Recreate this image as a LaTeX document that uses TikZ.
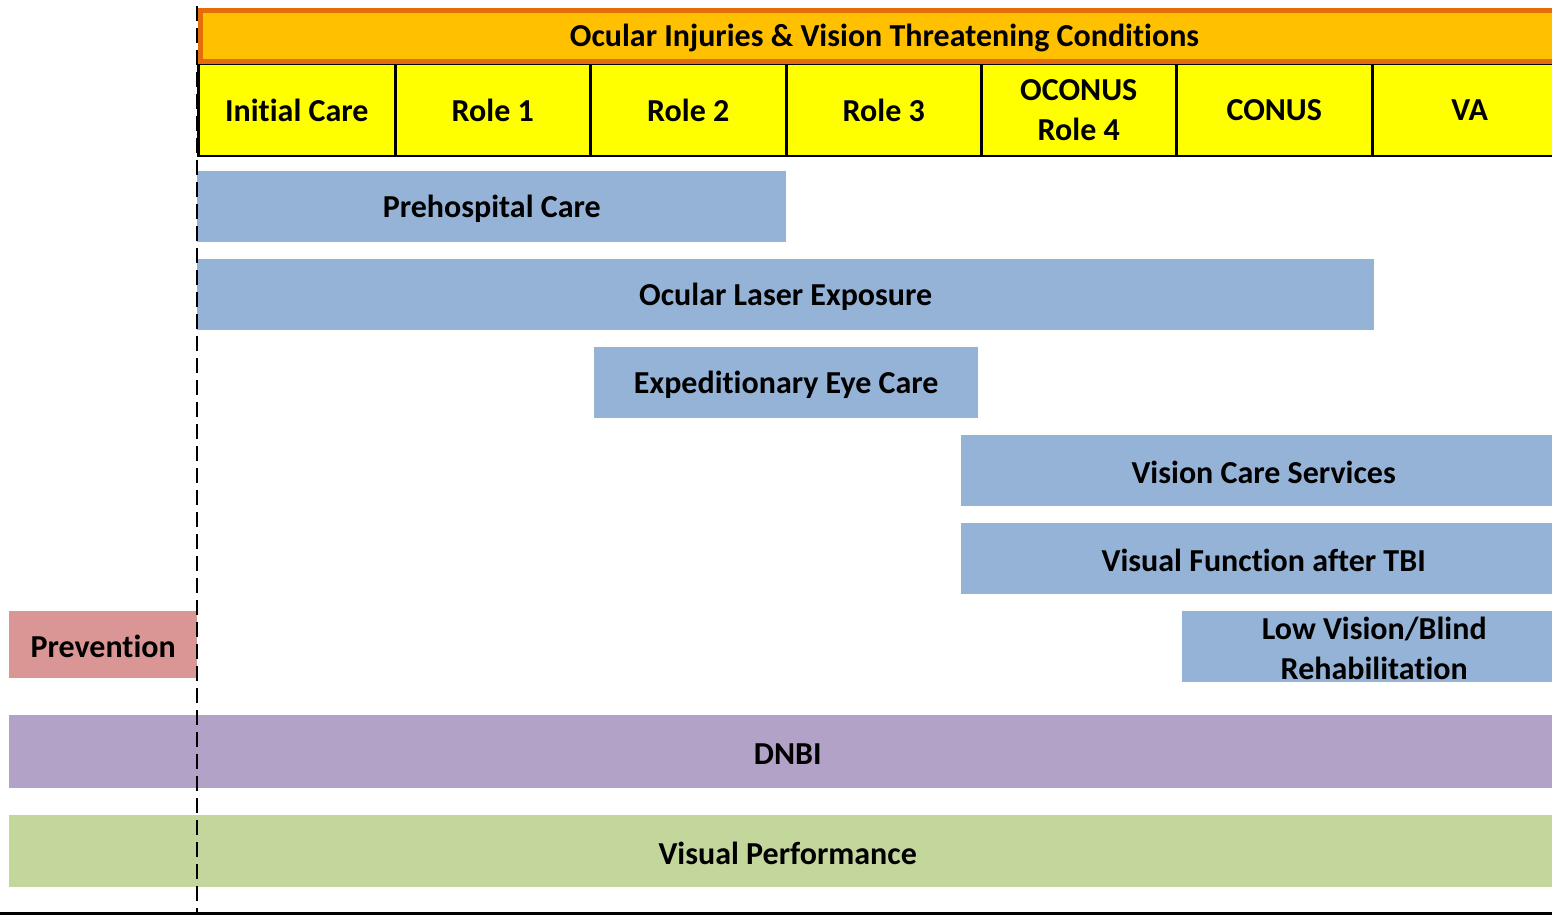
\documentclass[tikz,border=0pt]{standalone}
\usepackage{fontspec}
\setmainfont[Ligatures={NoCommon,NoContextual}]{Carlito}
\definecolor{hdrfill}{HTML}{FFC000}
\definecolor{hdrline}{HTML}{E46C0A}
\definecolor{cellfill}{HTML}{FFFF00}
\definecolor{bluebox}{HTML}{95B3D7}
\definecolor{pinkbox}{HTML}{D99694}
\definecolor{purplebox}{HTML}{B3A2C7}
\definecolor{greenbox}{HTML}{C3D69B}
\definecolor{baseline}{HTML}{B04A4A}
\tikzset{
  lbl/.style={font=\fontsize{32}{40}\selectfont\bfseries, align=center, inner sep=0pt},
  cellbox/.style={lbl, anchor=north west, fill=cellfill, draw=black, line width=2.5pt, minimum height=91.5pt},
  barbox/.style={anchor=north west, inner sep=0pt, draw=none, minimum height=71pt},
  bartext/.style={lbl, yshift=-2pt},
}
\begin{document}
\begin{tikzpicture}[x=1pt,y=-1pt]
\useasboundingbox (0,0) rectangle (1552,915);
\clip (0,0) rectangle (1552,915);
\fill[white] (0,0) rectangle (1552,915);
% column cells
\node[cellbox, minimum width=197pt] (c1) at (197,63) {Init\kern0pt ial Care};
\node[cellbox, minimum width=195pt] (c2) at (394,63) {Role 1};
\node[cellbox, minimum width=196pt] (c3) at (589,63) {Role 2};
\node[cellbox, minimum width=195pt] (c4) at (785,63) {Role 3};
\node[cellbox, minimum width=195pt] (c5) at (980,63) {OCONUS\\Role 4};
\node[cellbox, minimum width=196pt] (c6) at (1175,63) {CONUS};
\node[cellbox, minimum width=195pt] (c7) at (1371,63) {VA};
% header
\node[barbox, fill=hdrfill, draw=hdrline, line width=5pt, minimum width=1368pt, minimum height=51.5pt] (hdr) at (198,8) {};
\node[bartext] (hdrt) at (hdr.center) {Ocular Injuries \& Vision Threatening Condit\kern0pt ions};
% bars
\node[barbox, fill=bluebox, minimum width=589pt] (pre) at (197,171) {};
\node[bartext] (pret) at (pre.center) {Prehospital Care};
\node[barbox, fill=bluebox, minimum width=1177pt] (laser) at (197,259) {};
\node[bartext] (lasert) at (laser.center) {Ocular Laser Exposure};
\node[barbox, fill=bluebox, minimum width=384pt] (exp) at (594,347) {};
\node[bartext] (expt) at (exp.center) {Expedit\kern0pt ionary Eye Care};
\node[barbox, fill=bluebox, minimum width=605pt] (vcs) at (961,435) {};
\node[bartext] (vcst) at (vcs.center) {Vision Care Services};
\node[barbox, fill=bluebox, minimum width=605pt] (tbi) at (961,523) {};
\node[bartext] (tbit) at (tbi.center) {Visual Funct\kern0pt ion after TBI};
\node[barbox, fill=bluebox, minimum width=384pt] (low) at (1182,611) {};
\node[bartext] (lowt) at (low.center) {Low Vision/Blind\\Rehabilitat\kern0pt ion};
\node[barbox, fill=pinkbox, minimum width=188pt, minimum height=67pt] (prev) at (9,611) {};
\node[bartext] (prevt) at (prev.center) {Prevent\kern0pt ion};
\node[barbox, fill=purplebox, minimum width=1557pt, minimum height=73pt] (dnbi) at (9,715) {};
\node[bartext] (dnbit) at (dnbi.center) {DNBI};
\node[barbox, fill=greenbox, minimum width=1557pt, minimum height=72pt] (vp) at (9,815) {};
\node[bartext] (vpt) at (vp.center) {Visual Performance};
% dashed divider
\coordinate (dtop) at (197,6);
\coordinate (dbot) at (197,915);
\draw[black, line width=2.5pt, dash pattern=on 15pt off 7pt] (dtop) -- (dbot);
% bottom line
\coordinate (bl) at (0,913.5);
\coordinate (br) at (1552,913.5);
\draw[baseline, line width=3pt] (bl) -- (br);
\end{tikzpicture}
\end{document}
